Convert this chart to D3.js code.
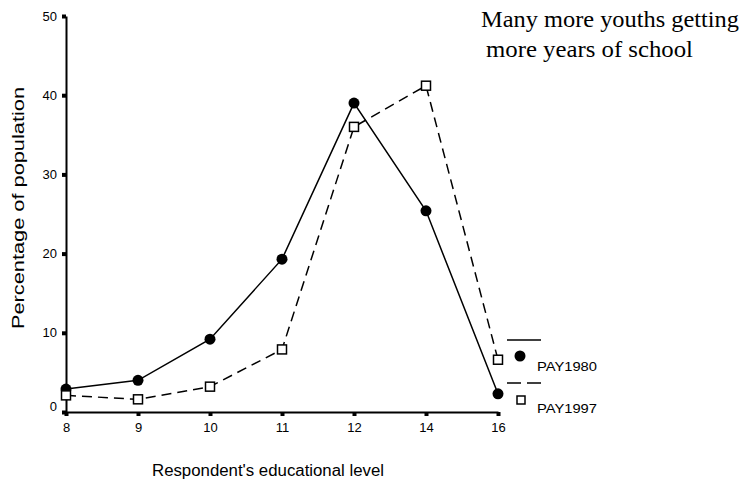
<!DOCTYPE html>
<html>
<head>
<meta charset="utf-8">
<script src="https://cdn.jsdelivr.net/npm/d3@7"></script>
<style>
  html, body { margin: 0; padding: 0; background: #fff; }
  svg { display: block; }
</style>
</head>
<body>
<svg id="chart" width="743" height="485"></svg>
<script>
const categories = ["8", "9", "10", "11", "12", "14", "16"];
const pay1980 = [2.9, 4.0, 9.2, 19.3, 39.0, 25.4, 2.3];
const pay1997 = [2.1, 1.6, 3.2, 7.9, 36.0, 41.2, 6.6];
const yTicks = [0, 10, 20, 30, 40, 50];
const seriesNames = ["PAY1980", "PAY1997"];

const svg = d3.select("#chart");
const x = d3.scalePoint().domain(categories).range([66, 498]);
const y = d3.scaleLinear().domain([0, 50]).range([412, 16]);
const sans = "'Liberation Sans', Arial, Helvetica, sans-serif";

// axes
const yAxis = d3.axisLeft(y).tickValues(yTicks).tickSize(0).tickPadding(9);
const gy = svg.append("g").attr("transform", "translate(66,0)").call(yAxis);
gy.select(".domain").attr("stroke", "#000").attr("stroke-width", 2);
gy.selectAll("text").attr("font-family", sans).attr("font-size", 13).attr("fill", "#000");
gy.selectAll(".tick").append("rect").attr("x", -4).attr("y", -2).attr("width", 4).attr("height", 4).attr("fill", "#000");
gy.selectAll(".tick").filter(d => d === 0).select("text").attr("dy", "-0.15em");

const xAxis = d3.axisBottom(x).tickSize(0).tickPadding(11);
const gx = svg.append("g").attr("transform", "translate(0,412)").call(xAxis);
gx.select(".domain").attr("stroke", "#000").attr("stroke-width", 2);
gx.selectAll("text").attr("font-family", sans).attr("font-size", 13).attr("fill", "#000");
gx.selectAll(".tick").append("rect").attr("x", -2).attr("y", 0).attr("width", 4).attr("height", 4).attr("fill", "#000");

// lines
const line = d3.line().x((d, i) => x(categories[i])).y(d => y(d));
svg.append("path").datum(pay1980).attr("d", line)
  .attr("fill", "none").attr("stroke", "#000").attr("stroke-width", 1.5);
svg.append("path").datum(pay1997).attr("d", line)
  .attr("fill", "none").attr("stroke", "#000").attr("stroke-width", 1.5)
  .attr("stroke-dasharray", "10,6");

// markers
svg.append("g").selectAll("circle").data(pay1980).join("circle")
  .attr("cx", (d, i) => x(categories[i])).attr("cy", d => y(d))
  .attr("r", 5.5).attr("fill", "#000");
svg.append("g").selectAll("rect").data(pay1997).join("rect")
  .attr("x", (d, i) => x(categories[i]) - 4.5).attr("y", d => y(d) - 4.5)
  .attr("width", 9).attr("height", 9)
  .attr("fill", "#fff").attr("stroke", "#000").attr("stroke-width", 1.5);

// legend
const lg = svg.append("g");
lg.append("line").attr("x1", 507).attr("x2", 541).attr("y1", 340).attr("y2", 340)
  .attr("stroke", "#000").attr("stroke-width", 1.5);
lg.append("circle").attr("cx", 520).attr("cy", 356).attr("r", 5.5).attr("fill", "#000");
lg.append("text").attr("x", 537).attr("y", 371).text(seriesNames[0])
  .attr("font-family", sans).attr("font-size", 13)
  .attr("textLength", 60).attr("lengthAdjust", "spacingAndGlyphs");
lg.append("line").attr("x1", 507).attr("x2", 543).attr("y1", 383).attr("y2", 383)
  .attr("stroke", "#000").attr("stroke-width", 1.5).attr("stroke-dasharray", "14,6");
lg.append("rect").attr("x", 517).attr("y", 396).attr("width", 8).attr("height", 8)
  .attr("fill", "#fff").attr("stroke", "#000").attr("stroke-width", 1.5);
lg.append("text").attr("x", 537).attr("y", 413).text(seriesNames[1])
  .attr("font-family", sans).attr("font-size", 13)
  .attr("textLength", 60).attr("lengthAdjust", "spacingAndGlyphs");

// axis titles
svg.append("text").attr("transform", "translate(24,208) rotate(-90)")
  .attr("text-anchor", "middle").attr("font-family", sans).attr("font-size", 17)
  .attr("textLength", 242).attr("lengthAdjust", "spacingAndGlyphs")
  .text("Percentage of population");
svg.append("text").attr("x", 268).attr("y", 476).attr("text-anchor", "middle")
  .attr("font-family", sans).attr("font-size", 16)
  .attr("textLength", 232).attr("lengthAdjust", "spacingAndGlyphs")
  .text("Respondent's educational level");

// annotation
const serif = "'Liberation Serif', 'Times New Roman', serif";
svg.append("text").attr("x", 481).attr("y", 27).attr("font-family", serif).attr("font-size", 24)
  .attr("textLength", 258).attr("lengthAdjust", "spacingAndGlyphs")
  .text("Many more youths getting");
svg.append("text").attr("x", 486).attr("y", 57).attr("font-family", serif).attr("font-size", 24)
  .attr("textLength", 207).attr("lengthAdjust", "spacingAndGlyphs")
  .text("more years of school");
</script>
</body>
</html>
